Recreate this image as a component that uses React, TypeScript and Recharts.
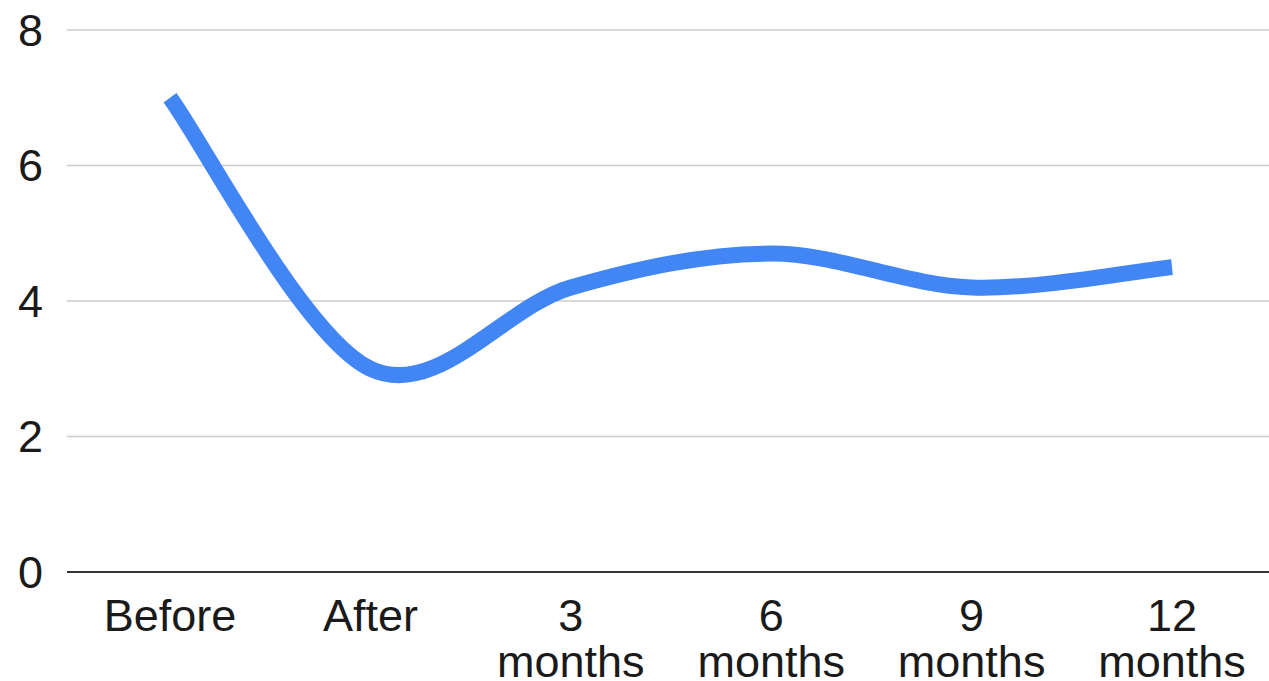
import React from "react";
import { LineChart, Line, XAxis, YAxis, CartesianGrid } from "recharts";

// Survey score over time
const categories: string[] = ["Before", "After", "3 months", "6 months", "9 months", "12 months"];
const scores: number[] = [7.0, 3.0, 4.2, 4.7, 4.2, 4.5];
const yTicks: number[] = [0, 2, 4, 6, 8];

const data = categories.map((name, idx) => ({ idx, name, score: scores[idx] }));
const xTicks = categories.map((_, i) => i);

const FONT = "Arial, 'Liberation Sans', sans-serif";
const TEXT = "#1a1a1a";

// Catmull-Rom style smoothing passed to the line as a d3 curve factory
function smoothCurve(context: any) {
  let xs: number[] = [];
  let ys: number[] = [];
  return {
    areaStart() {},
    areaEnd() {},
    lineStart() {
      xs = [];
      ys = [];
    },
    point(x: number, y: number) {
      xs.push(+x);
      ys.push(+y);
    },
    lineEnd() {
      const n = xs.length;
      if (!n) return;
      context.moveTo(xs[0], ys[0]);
      const k = 1 / 6;
      for (let i = 0; i < n - 1; i++) {
        const a = Math.max(i - 1, 0);
        const d = Math.min(i + 2, n - 1);
        context.bezierCurveTo(
          xs[i] + (xs[i + 1] - xs[a]) * k,
          ys[i] + (ys[i + 1] - ys[a]) * k,
          xs[i + 1] - (xs[d] - xs[i]) * k,
          ys[i + 1] - (ys[d] - ys[i]) * k,
          xs[i + 1],
          ys[i + 1]
        );
      }
    },
  };
}

const CategoryTick = (props: any) => {
  const { x, y, payload } = props;
  const label = categories[payload.value] ?? "";
  const lines = label.split(" ");
  return (
    <text x={x} y={y} textAnchor="middle" fill={TEXT} fontSize={45} fontFamily={FONT}>
      {lines.map((ln, i) => (
        <tspan key={i} x={x} y={y + 59 + i * 46}>
          {ln}
        </tspan>
      ))}
    </text>
  );
};

export default function App() {
  return (
    <div style={{ position: "absolute", left: 0, top: 0, width: 1269, height: 681, background: "#fff" }}>
      <LineChart width={1269} height={681} data={data} margin={{ top: 30, right: 0, left: 0, bottom: 0 }}>
        <CartesianGrid vertical={false} stroke="#cccccc" strokeWidth={1.5} />
        <XAxis
          dataKey="idx"
          type="number"
          domain={[-0.514, 5.484]}
          ticks={xTicks}
          allowDataOverflow
          height={109}
          tickLine={false}
          tickSize={0}
          tickMargin={0}
          axisLine={{ stroke: "#333333", strokeWidth: 2 }}
          tick={<CategoryTick />}
          interval={0}
        />
        <YAxis
          domain={[0, 8]}
          ticks={yTicks}
          width={67}
          axisLine={false}
          tickLine={false}
          tickSize={0}
          tickMargin={24}
          tick={{ fill: TEXT, fontSize: 45, fontFamily: FONT }}
        />
        <Line
          dataKey="score"
          type={smoothCurve as any}
          stroke="#4285F4"
          strokeWidth={16}
          strokeLinejoin="round"
          dot={false}
          activeDot={false}
          isAnimationActive={false}
        />
      </LineChart>
    </div>
  );
}
